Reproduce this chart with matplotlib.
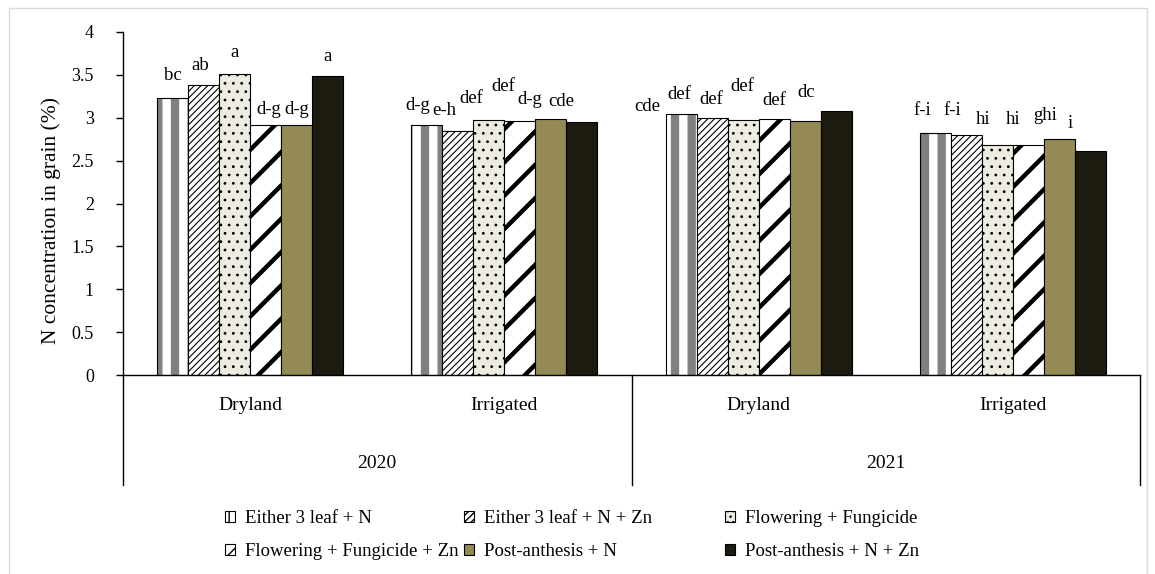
import matplotlib
matplotlib.use("Agg")
import matplotlib.pyplot as plt
from matplotlib.patches import Patch, Rectangle
from matplotlib.lines import Line2D
import numpy as np

plt.rcParams['font.family'] = ['Liberation Serif', 'DejaVu Serif']

years = ["2020", "2021"]
sites = ["Dryland", "Irrigated"]
treatments = ["Either 3 leaf + N", "Either 3 leaf + N + Zn", "Flowering + Fungicide",
              "Flowering + Fungicide + Zn", "Post-anthesis + N", "Post-anthesis + N + Zn"]

# N concentration (%) per year/site group, one value per treatment
n_grain = [
    [3.23, 3.38, 3.51, 2.92, 2.91, 3.49],
    [2.92, 2.85, 2.97, 2.96, 2.99, 2.95],
    [3.04, 3.00, 2.97, 2.99, 2.96, 3.08],
    [2.82, 2.80, 2.68, 2.68, 2.75, 2.61],
]
letters = [
    ["bc", "ab", "a", "d-g", "d-g", "a"],
    ["d-g", "e-h", "def", "def", "d-g", "cde"],
    ["cde", "def", "def", "def", "def", "dc"],
    ["f-i", "f-i", "hi", "hi", "ghi", "i"],
]
# where the letters sit (as in the original, some drift off their bars)
label_y = [
    [3.49, 3.61, 3.76, 3.10, 3.10, 3.72],
    [3.14, 3.08, 3.22, 3.37, 3.21, 3.19],
    [3.13, 3.27, 3.21, 3.37, 3.20, 3.30],
    [3.09, 3.09, 2.98, 2.98, 3.03, 2.93],
]
label_shift = [
    [0.0, -0.1, 0.0, 0.1, 0.0, 0.0],
    [-0.29, -0.45, -0.58, -0.52, -0.68, -0.65],
    [-1.08, -1.06, -1.03, -1.03, -1.0, -0.97],
    [-0.42, -0.45, -0.45, -0.48, -0.45, -0.65],
]

styles = [
    dict(face="white", hatchc="#808080", hatch="|", hlw=6.0, leg="||"),
    dict(face="white", hatchc="black", hatch="/////", hlw=0.8, leg="/////"),
    dict(face="#EEECE1", hatchc="black", hatch="..", hlw=0.8, leg="..."),
    dict(face="white", hatchc="black", hatch="/", hlw=3.2, leg="//"),
    dict(face="#948A54", hatchc="#948A54", hatch=None, hlw=1.0, leg=None),
    dict(face="#1D1B10", hatchc="#1D1B10", hatch=None, hlw=1.0, leg=None),
]

fig = plt.figure(figsize=(11.55, 5.74), dpi=100)
ax = fig.add_axes([123/1155, 1-375/574, 1017/1155, 343/574])

groups = np.arange(len(n_grain))
w = 31/254.25
vals = np.array(n_grain)

for j, st in enumerate(styles):
    x = groups + (j - 2.5) * w
    with plt.rc_context({'hatch.linewidth': st['hlw']}):
        bars = ax.bar(x, vals[:, j], w, color=st['face'], edgecolor=st['hatchc'],
                      hatch=st['hatch'], linewidth=0)
        for b in bars:
            try:
                b.set_hatch_linewidth(st['hlw'])
            except AttributeError:
                pass
    ax.bar(x, vals[:, j], w, fill=False, edgecolor="black", linewidth=0.8)
    for g in groups:
        ax.text(x[g] + label_shift[g][j] * w, label_y[g][j], letters[g][j],
                ha="center", va="center", fontsize=13.5)

ax.set_xlim(-0.5, 3.5)
ax.set_ylim(0, 4)
ax.set_yticks(np.arange(0, 4.01, 0.5))
ax.set_yticklabels(["0", "0.5", "1", "1.5", "2", "2.5", "3", "3.5", "4"])
ax.tick_params(axis="y", direction="out", length=5, width=1, labelsize=13, pad=16)
ax.set_xticks([])
for s in ["top", "right"]:
    ax.spines[s].set_visible(False)
ax.spines["left"].set_linewidth(1)
ax.spines["bottom"].set_linewidth(1)
ax.set_ylabel("N concentration in grain (%)", fontsize=15.5)
ax.yaxis.set_label_coords(-62/1017, (375-220)/343)

# multi-level category axis
tr = ax.get_xaxis_transform()
low = -(485-375)/343
for xv in [-0.5, 1.5, 3.5]:
    ax.add_line(Line2D([xv, xv], [0, low], transform=tr, color="black", lw=1, clip_on=False))
for g in groups:
    ax.text(g, -31/343, sites[g % 2], transform=tr, ha="center", va="center", fontsize=14)
for k, yr in enumerate(years):
    ax.text(2*k + 0.5, -88/343, yr, transform=tr, ha="center", va="center", fontsize=14)

# legend: three columns of two rows
handles = []
for st in styles:
    with plt.rc_context({'hatch.linewidth': 1.0}):
        handles.append(Patch(facecolor=st['face'], edgecolor="black",
                             hatch=st['leg'], linewidth=0.8))
col_x = [225, 464, 725]
for c in range(3):
    idx = [c, c + 3]
    fig.legend([handles[i] for i in idx], [treatments[i] for i in idx],
               loc="upper left", bbox_to_anchor=(col_x[c]/1155, 1-510/574),
               frameon=False, fontsize=13.5, handlelength=0.55, handleheight=0.55,
               handletextpad=0.5, labelspacing=0.85, borderpad=0, borderaxespad=0)

fig.add_artist(Rectangle((9/1155, -0.02), 1138/1155, 1.02-8/574, transform=fig.transFigure,
                         fill=False, edgecolor="#D9D9D9", lw=1))

fig.savefig("out.png", dpi=100)
